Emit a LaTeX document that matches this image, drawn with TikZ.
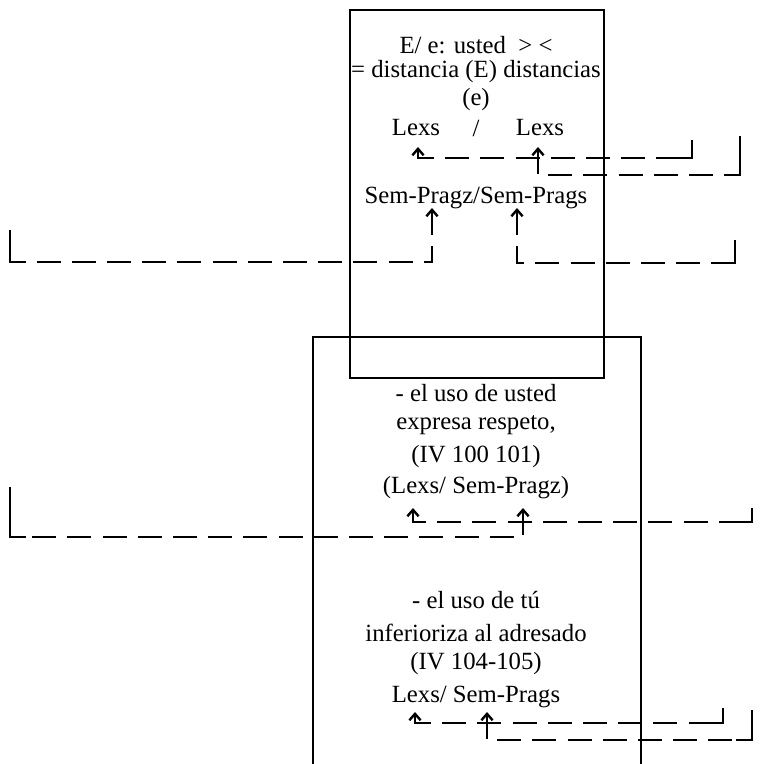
\documentclass[tikz,border=0pt]{standalone}
\usepackage{fontspec}
\setmainfont{Liberation Serif}
\usetikzlibrary{arrows.meta}

\begin{document}
\begin{tikzpicture}[x=0.25mm,y=-0.25mm,line width=0.35mm,
  every node/.style={font=\fontsize{17.6pt}{20pt}\selectfont,inner sep=0pt},
  link/.style={line width=0.6mm,dash pattern=on 6mm off 2.8mm,
    {Straight Barb[length=1.6mm,width=2.8mm]}-},
  tick/.style={line width=0.6mm}]
  \useasboundingbox (0,0) rectangle (764,764);
  % the two boxes
  \draw (350,10) rectangle (604,378);
  \draw (313,764) -- (313,337) -- (641,337) -- (641,764);
  % upper box
  \node (usted)  at (476,45)  {E/ e: usted \ > <};
  \node (dist)   at (476,72)  {= distancia (E) distancias};
  \node (e)      at (476,100) {(e)};
  \node (lexsA)  at (416,128) {Lexs};
  \node (slash)  at (476,128) {/};
  \node (lexsB)  at (540,128) {Lexs};
  \node (sempr)  at (476,198) {Sem-Pragz/Sem-Prags};
  % lower box
  \node (usoU)   at (476,393) {- el uso de usted};
  \node (resp)   at (476,425) {expresa respeto,};
  \node (refU)   at (476,457) {(IV 100 101)};
  \node (levU)   at (476,488) {(Lexs/ Sem-Pragz)};
  \node (usoT)   at (476,600) {- el uso de tú};
  \node (infer)  at (476,633) {inferioriza al adresado};
  \node (refT)   at (476,664) {(IV 104-105)};
  \node (levT)   at (476,697) {Lexs/ Sem-Prags};
  % arrow tips
  \coordinate (tLexsA) at (418,147);
  \coordinate (tLexsB) at (538,147);
  \coordinate (tPragz) at (432,208);
  \coordinate (tPrags) at (517,208);
  \coordinate (tLexsU) at (413,508);
  \coordinate (tPragU) at (523,508);
  \coordinate (tLexsT) at (415,712);
  \coordinate (tPragT) at (487,712);
  % corners and free ends
  \coordinate (cLexsA) at (692,158); \coordinate (eLexsA) at (692,140);
  \coordinate (cLexsB) at (740,175); \coordinate (eLexsB) at (740,136);
  \coordinate (cPragz) at (10,262);  \coordinate (ePragz) at (10,230);
  \coordinate (cPrags) at (735,263); \coordinate (ePrags) at (735,240);
  \coordinate (cLexsU) at (752,522); \coordinate (eLexsU) at (752,508);
  \coordinate (cPragU) at (10,537);  \coordinate (ePragU) at (10,487);
  \coordinate (cLexsT) at (723,723); \coordinate (eLexsT) at (723,708);
  \coordinate (cPragT) at (752,740); \coordinate (ePragT) at (752,710);
  \draw[link] (tLexsA) |- (cLexsA);
  \draw[tick] ([xshift=-4mm]cLexsA) -- (cLexsA) -- (eLexsA);
  \draw[link] (tLexsB) |- (cLexsB);
  \draw[tick] ([xshift=-4mm]cLexsB) -- (cLexsB) -- (eLexsB);
  \draw[link] (tPragz) |- (cPragz);
  \draw[tick] ([xshift=4mm]cPragz) -- (cPragz) -- (ePragz);
  \draw[link] (tPrags) |- (cPrags);
  \draw[tick] ([xshift=-4mm]cPrags) -- (cPrags) -- (ePrags);
  \draw[link] (tLexsU) |- (cLexsU);
  \draw[tick] ([xshift=-4mm]cLexsU) -- (cLexsU) -- (eLexsU);
  \draw[link] (tPragU) |- (cPragU);
  \draw[tick] ([xshift=4mm]cPragU) -- (cPragU) -- (ePragU);
  \draw[link] (tLexsT) |- (cLexsT);
  \draw[tick] ([xshift=-4mm]cLexsT) -- (cLexsT) -- (eLexsT);
  \draw[link] (tPragT) |- (cPragT);
  \draw[tick] ([xshift=-4mm]cPragT) -- (cPragT) -- (ePragT);
\end{tikzpicture}
\end{document}
